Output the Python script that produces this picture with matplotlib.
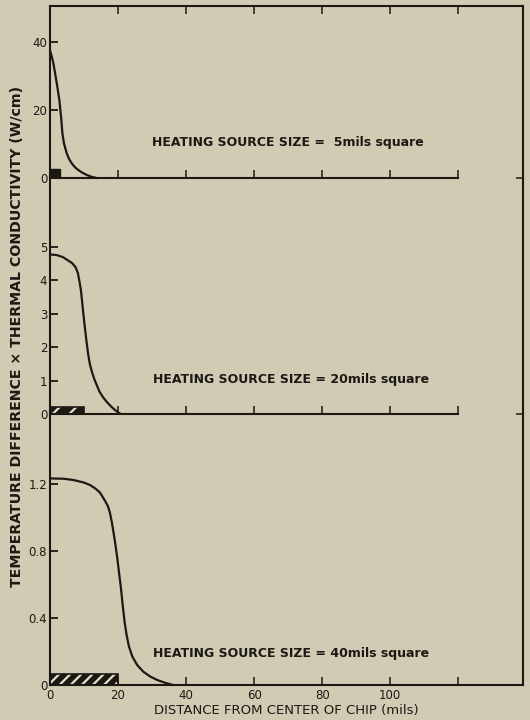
import numpy as np
import matplotlib
matplotlib.use("Agg")
import matplotlib.pyplot as plt

# curve readings: distance from chip centre (mils) vs dT*k (W/cm)
x5 = [0, 0.5, 1, 1.5, 2, 2.4, 2.75, 3.25, 3.65, 4.1, 4.9, 5.6, 6.4, 7.3, 8.3, 9.5, 10.8, 12.2, 13.7]
t5 = [37.6, 35.8, 33.7, 30.8, 27.8, 25.2, 22.9, 18.0, 13.1, 10.2, 7.3, 5.6, 4.3, 3.2, 2.35, 1.55, 0.9, 0.35, 0]

x20 = [0, 2, 3.8, 5.3, 6.5, 7.5, 8.2, 8.7, 9.1, 9.6, 10.1, 10.7, 11.2, 11.7, 12.3,
       13.0, 13.8, 14.6, 15.6, 16.8, 18, 19.1, 20, 20.8]
t20 = [4.78, 4.76, 4.70, 4.6, 4.52, 4.4, 4.22, 3.95, 3.7, 3.2, 2.72, 2.2, 1.8, 1.5, 1.27,
       1.05, 0.85, 0.66, 0.5, 0.35, 0.22, 0.12, 0.05, 0]

x40 = [0, 4, 7, 10, 11.8, 13.3, 14.7, 16.2, 17.0, 17.6, 18.2, 19, 19.7, 20.3, 20.9, 21.4,
       21.9, 22.5, 23.2, 24.2, 25.6, 27.4, 29.5, 31.5, 34, 36.2]
t40 = [1.235, 1.233, 1.225, 1.21, 1.195, 1.175, 1.15, 1.10, 1.07, 1.03, 0.97, 0.87, 0.77, 0.67, 0.57, 0.47,
       0.38, 0.30, 0.23, 0.17, 0.12, 0.08, 0.05, 0.03, 0.012, 0]

# heating source (drawn half width in mils, drawn height)
src_half = [3, 10, 20]
src_height = [2.6, 0.21, 0.065]
src_hatch = [None, "//", "///"]

labels = ["HEATING SOURCE SIZE =  5mils square",
          "HEATING SOURCE SIZE = 20mils square",
          "HEATING SOURCE SIZE = 40mils square"]
label_pos = [(30, 10.3), (30.3, 1.02), (30.3, 0.19)]

yticks = [[0, 20, 40], [0, 1, 2, 3, 4, 5], [0, 0.4, 0.8, 1.2]]
ytick_labels = [["0", "20", "40"], ["0", "1", "2", "3", "4", "5"], ["0", "0.4", "0.8", "1.2"]]
ylims = [50.6, 7.07, 1.62]
xticks = [0, 20, 40, 60, 80, 100, 120]
xtick_labels = ["0", "20", "40", "60", "80", "100", ""]

bg = "#d1cbb3"
ink = "#1c1814"
plt.rcParams["hatch.linewidth"] = 1.6

fig = plt.figure(figsize=(5.3, 7.2), dpi=100, facecolor=bg)
W, H = 530, 720
left, right = 50, 523
rows = [(6, 178), (178, 414), (414, 685)]
curves = [(x5, t5), (x20, t20), (x40, t40)]

axes = []
for i, (top, bot) in enumerate(rows):
    ax = fig.add_axes([left / W, 1 - bot / H, (right - left) / W, (bot - top) / H])
    ax.set_facecolor("none")
    ax.set_xlim(0, 139)
    ax.set_ylim(0, ylims[i])
    for s in ax.spines.values():
        s.set_color(ink)
        s.set_linewidth(1.5)
    ax.spines["top"].set_visible(i == 0)
    ax.set_yticks(yticks[i])
    ax.set_yticklabels(ytick_labels[i])
    ax.tick_params(axis="y", direction="in", length=6, width=1.3, color=ink,
                   pad=2, labelsize=8.5, labelcolor=ink)
    if i < 2:
        ax.spines["bottom"].set_bounds(0, 120)
        ax.set_xticks(xticks[1:])
        ax.tick_params(axis="x", direction="in", length=6, width=1.1, color=ink,
                       labelbottom=False, top=(i == 0))
        # short inward tick on the right frame at zero
        sec = ax.secondary_yaxis("right")
        sec.spines["right"].set_visible(False)
        sec.set_yticks([0])
        sec.tick_params(direction="in", length=5, width=1.1, color=ink, labelright=False)
    else:
        ax.set_xticks(xticks)
        ax.set_xticklabels(xtick_labels)
        ax.tick_params(axis="x", direction="in", length=6, width=1.1, color=ink,
                       labelsize=8.5, labelcolor=ink, pad=3)

    x, t = curves[i]
    ax.plot(x, t, color=ink, lw=1.6, solid_capstyle="round", solid_joinstyle="round",
            clip_on=False, zorder=3)

    if src_hatch[i] is None:
        ax.bar(0, src_height[i], width=src_half[i], align="edge", color=ink,
               edgecolor=ink, linewidth=1)
    else:
        ax.bar(0, src_height[i], width=src_half[i], align="edge", color=ink,
               edgecolor="#e8e2cc", hatch=src_hatch[i], linewidth=0)
        ax.bar(0, src_height[i], width=src_half[i], align="edge", fill=False,
               edgecolor=ink, linewidth=1.2)

    ax.text(label_pos[i][0], label_pos[i][1], labels[i], fontsize=9, fontweight="bold",
            color=ink, va="center", ha="left")
    axes.append(ax)

axes[2].set_xlabel("DISTANCE FROM CENTER OF CHIP (mils)", fontsize=9.5, color=ink, labelpad=1)
fig.text(17 / W, 1 - 336 / H, "TEMPERATURE DIFFERENCE \u00d7 THERMAL CONDUCTIVITY (W/cm)",
         rotation=90, fontsize=10.2, fontweight="bold", color=ink, ha="center", va="center")

fig.savefig("out.png", dpi=100, facecolor=bg)
